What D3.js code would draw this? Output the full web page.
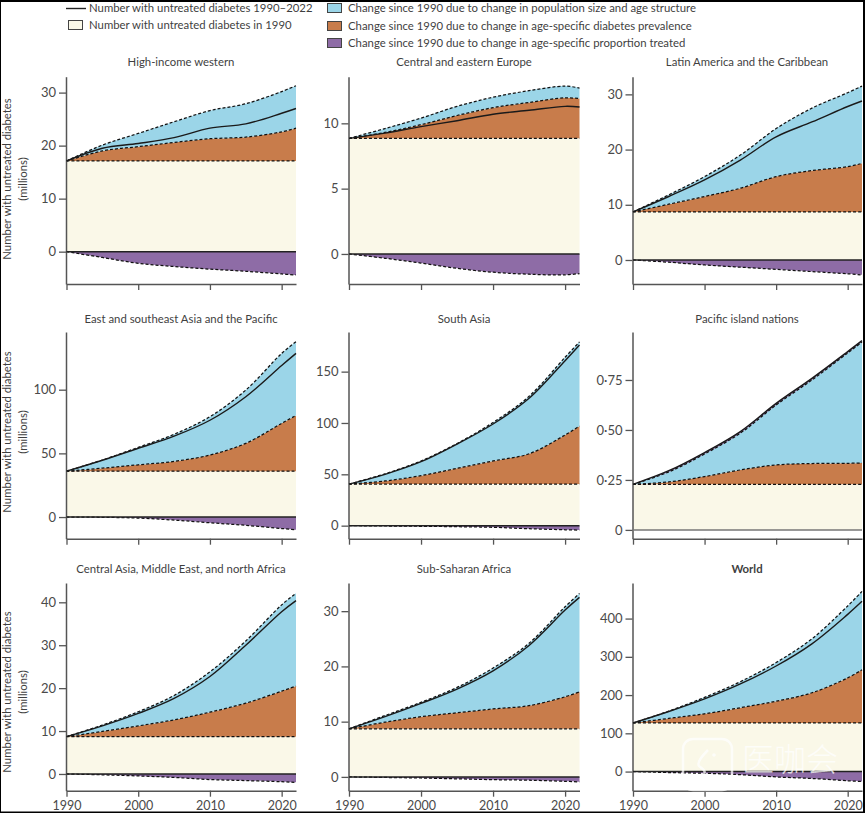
<!DOCTYPE html>
<html><head><meta charset="utf-8">
<script src="https://cdn.jsdelivr.net/npm/d3@7"></script>
<style>
html,body{margin:0;padding:0;background:#fff}
svg{display:block}
text{font-family:Lato,"Noto Sans",sans-serif;fill:#3f3f3f}
</style></head><body>
<svg id="c" width="865" height="813"></svg>
<script>
const years = [1990,1995,2000,2005,2010,2015,2020,2022];

const titles = ["High-income western","Central and eastern Europe","Latin America and the Caribbean",
  "East and southeast Asia and the Pacific","South Asia","Pacific island nations",
  "Central Asia, Middle East, and north Africa","Sub-Saharan Africa","World"];

const base = [17.1,8.85,8.7,36,40.5,0.228,8.7,8.7,127];

const topHighIncome = [17.1,20.1,22.3,24.5,26.6,27.9,30.2,31.3];
const prevHighIncome = [17.1,19.0,19.8,20.6,21.3,21.6,22.6,23.3];
const lineHighIncome = [17.1,19.5,20.4,21.5,23.3,24.1,26.1,27.0];
const treatHighIncome = [0,-1.1,-2.2,-2.8,-3.3,-3.7,-4.2,-4.4];

const topEurope = [8.85,9.6,10.4,11.3,12.0,12.5,12.85,12.7];
const prevEurope = [8.85,9.3,9.9,10.6,11.2,11.6,11.95,11.9];
const lineEurope = [8.85,9.25,9.75,10.2,10.7,11.0,11.3,11.25];
const treatEurope = [0,-0.33,-0.7,-1.1,-1.4,-1.55,-1.6,-1.5];

const topLatin = [8.7,11.8,15.1,19,23.8,27.5,30.3,31.5];
const prevLatin = [8.7,10.1,11.5,13,15.1,16.2,16.9,17.5];
const lineLatin = [8.7,11.5,14.5,18.1,22.3,25.0,27.8,28.8];
const treatLatin = [0,-0.4,-0.9,-1.3,-1.7,-2.1,-2.5,-2.7];

const topEastAsia = [36,44.8,54.7,65,78.8,99.7,128.5,137.7];
const prevEastAsia = [36,38.4,41,43.7,48.7,57.9,73.6,79.8];
const lineEastAsia = [36,44.6,54,63.5,76,94.5,119,128.5];
const treatEastAsia = [0,-0.2,-0.8,-2.4,-4.5,-6.5,-9,-10];

const topSouthAsia = [40.5,50.5,63,80,100.5,126,164,179];
const prevSouthAsia = [40.5,43.5,48.7,55.8,63,70,88.3,97];
const lineSouthAsia = [40.5,50,62.3,79.5,99,124,160.7,176];
const treatSouthAsia = [0,-0.3,-0.6,-1,-1.6,-3,-4,-4.3];

const topPacific = [0.228,0.290,0.38,0.484,0.625,0.75,0.885,0.94];
const prevPacific = [0.228,0.240,0.267,0.30,0.325,0.332,0.333,0.335];
const linePacific = [0.228,0.296,0.387,0.492,0.633,0.758,0.892,0.947];
const treatPacific = [0,0.006,0.007,0.008,0.008,0.008,0.007,0.007];

const topMena = [8.7,11.4,14.5,18.3,23.8,31,39.4,42.1];
const prevMena = [8.7,9.9,11.2,12.6,14.4,16.5,19.3,20.5];
const lineMena = [8.7,11.2,14.1,17.6,22.7,30,37.8,40.4];
const treatMena = [0,-0.2,-0.45,-0.8,-1.3,-1.55,-1.8,-1.95];

const topAfrica = [8.7,11.1,13.5,16.2,19.7,24.2,30.8,33.2];
const prevAfrica = [8.7,9.9,10.9,11.6,12.3,12.9,14.5,15.4];
const lineAfrica = [8.7,10.9,13.3,15.9,19.2,23.8,30.2,32.5];
const treatAfrica = [0,-0.1,-0.2,-0.35,-0.5,-0.6,-0.8,-0.9];

const topWorld = [127,158,194,235,285,347,433,471];
const prevWorld = [127,139,151,167,184,206,245,266];
const lineWorld = [127,157,190,229,276,334,411,445];
const treatWorld = [0,-2.5,-4.5,-8,-14,-18,-24,-26];

const tops = [topHighIncome,topEurope,topLatin,topEastAsia,topSouthAsia,topPacific,topMena,topAfrica,topWorld];
const prevs = [prevHighIncome,prevEurope,prevLatin,prevEastAsia,prevSouthAsia,prevPacific,prevMena,prevAfrica,prevWorld];
const lines = [lineHighIncome,lineEurope,lineLatin,lineEastAsia,lineSouthAsia,linePacific,lineMena,lineAfrica,lineWorld];
const treats = [treatHighIncome,treatEurope,treatLatin,treatEastAsia,treatSouthAsia,treatPacific,treatMena,treatAfrica,treatWorld];

const yTicks = [[0,10,20,30],[0,5,10],[0,10,20,30],[0,50,100],[0,50,100,150],[0,0.25,0.5,0.75],[0,10,20,30,40],[0,10,20,30],[0,100,200,300,400]];
const xTicks = [1990,2000,2010,2020];
const yDomains = [[-6.1,33],[-2.3,13.57],[-4.35,33.2],[-17,145.3],[-12.7,188.6],[-0.044,0.99],[-3.9,44.5],[-2.5,35.1],[-50,493]];

const legendLeft = ["Number with untreated diabetes 1990–2022","Number with untreated diabetes in 1990"];
const legendRight = ["Change since 1990 due to change in population size and age structure",
  "Change since 1990 due to change in age-specific diabetes prevalence",
  "Change since 1990 due to change in age-specific proportion treated"];

const BLUE="#9bd5e8", ORANGE="#c87c4b", CREAM="#faf8e8", PURPLE="#8e6ca6", AXIS="#555";
const colX = [[66.5,296],[349,579.5],[633,862]];
const rowY = [[284,76.7],[538.7,332],[790.7,583]];
const titleY = [62,319,569.5];
const titleX = [181,464,747];
const yTitleC = [179,432,692];
const LABEL = "11.35px";

const svg = d3.select("#c");

titles.forEach((title,i)=>{
  const col=i%3,row=Math.floor(i/3);
  const x=d3.scaleLinear().domain([1990,2022]).range(colX[col]);
  const y=d3.scaleLinear().domain(yDomains[i]).range(rowY[row]);
  const g=svg.append("g");
  const d=years.map((yr,k)=>({yr,top:tops[i][k],prev:prevs[i][k],line:lines[i][k],treat:treats[i][k]}));
  const cv=d3.curveCatmullRom.alpha(0.5);
  const band=(a,b,c)=>g.append("path").attr("fill",c).attr("d",d3.area().curve(cv).x(p=>x(p.yr)).y0(a).y1(b)(d));
  band(()=>y(0),()=>y(base[i]),CREAM);
  band(()=>y(base[i]),p=>y(p.prev),ORANGE);
  band(p=>y(p.prev),p=>y(p.top),BLUE);
  const positive=d3.max(treats[i])>0;
  if(positive) band(p=>y(p.top),p=>y(p.top+p.treat),PURPLE);
  else band(()=>y(0),p=>y(p.treat),PURPLE);
  const dash=(f)=>g.append("path").attr("fill","none").attr("stroke","#111").attr("stroke-width",1.25)
    .attr("stroke-dasharray","3,2").attr("d",d3.line().curve(cv).x(p=>x(p.yr)).y(f)(d));
  dash(()=>y(base[i]));
  dash(p=>y(p.prev));
  dash(p=>y(p.top));
  if(!positive) dash(p=>y(p.treat));
  // axes
  const ax=g.append("g").attr("transform",`translate(${colX[col][0]-0.5},0)`)
    .call(d3.axisLeft(y).tickValues(yTicks[i]).tickSize(7).tickSizeOuter(0)
      .tickFormat(v=>i===5&&v!==0?d3.format(".2f")(v).replace(".","·"):String(v)));
  const bx=g.append("g").attr("transform",`translate(0,${rowY[row][0]})`)
    .call(d3.axisBottom(x).tickValues(xTicks).tickSize(6).tickSizeOuter(0).tickFormat(row===2?d3.format("d"):""));
  [ax,bx].forEach(a=>{
    a.selectAll("path").attr("stroke",AXIS).attr("stroke-width",1.5);
    a.selectAll("line").attr("stroke",AXIS).attr("stroke-width",1.3);
    a.selectAll("text").style("font-family","Lato").style("font-size","13px").style("fill","#4a4a4a");
  });
  bx.selectAll("text").attr("y",10).style("font-size","12.5px");
  // zero line
  g.append("line").attr("x1",colX[col][0]).attr("x2",colX[col][1]).attr("y1",y(0)).attr("y2",y(0))
    .attr("stroke",i===5?"#777":"#222").attr("stroke-width",1.5);
  // solid
  g.append("path").attr("fill","none").attr("stroke","#1a1a1a").attr("stroke-width",1.4)
    .attr("d",d3.line().curve(cv).x(p=>x(p.yr)).y(p=>y(p.line))(d));
  svg.append("text").attr("x",titleX[col]).attr("y",titleY[row]).attr("dy","0.35em").attr("text-anchor","middle")
    .style("font-size",LABEL).style("font-weight",i===8?"700":"400").text(title);
});

yTitleC.forEach(c=>{
  const t=svg.append("text").attr("transform",`translate(11,${c}) rotate(-90)`).attr("text-anchor","middle").style("font-size",LABEL);
  t.append("tspan").attr("x",0).attr("y",0).text("Number with untreated diabetes");
  t.append("tspan").attr("x",0).attr("y",16).text("(millions)");
});

// legend
svg.append("line").attr("x1",66).attr("x2",86).attr("y1",8.5).attr("y2",8.5).attr("stroke","#222").attr("stroke-width",1.4);
svg.append("rect").attr("x",68.5).attr("y",20.5).attr("width",14).attr("height",9).attr("fill",CREAM).attr("stroke","#444").attr("stroke-width",1);
legendLeft.forEach((t,i)=>svg.append("text").attr("x",89).attr("y",8.5+i*17).attr("dy","0.35em").style("font-size",LABEL).text(t));
[BLUE,ORANGE,PURPLE].forEach((c,i)=>svg.append("rect").attr("x",327.5).attr("y",3.5+[0,18,35][i]).attr("width",14).attr("height",9).attr("fill",c).attr("stroke","#444").attr("stroke-width",1));
legendRight.forEach((t,i)=>svg.append("text").attr("x",348).attr("y",8+[0,18,35][i]).attr("dy","0.35em").style("font-size",LABEL).text(t));

// watermark
const wm=svg.append("g").attr("opacity",0.75);
wm.append("rect").attr("x",683).attr("y",739).attr("width",49).attr("height",51).attr("rx",10).attr("fill","none").attr("stroke","#fff").attr("stroke-width",2.5);
wm.append("path").attr("d","M708,750 C700,758 697,763 699,766 C703,769 706,771 704,774 C702,778 700,780 699,782").attr("fill","none").attr("stroke","#fff").attr("stroke-width",2.5);
wm.append("circle").attr("cx",714).attr("cy",755).attr("r",1.8).attr("fill","#fff");
wm.append("text").attr("x",742).attr("y",771).style("font-family","'Noto Sans CJK SC'").style("font-size","32px").style("font-weight","300").style("fill","#fff").text("医咖会");

// frame
const frame=svg.append("g").attr("fill","#000");
frame.append("rect").attr("x",0).attr("y",0).attr("width",865).attr("height",2);
frame.append("rect").attr("x",0).attr("y",0).attr("width",1).attr("height",813);
frame.append("rect").attr("x",863).attr("y",0).attr("width",2).attr("height",813);
frame.append("rect").attr("x",0).attr("y",811.5).attr("width",865).attr("height",1.5);
</script>
</body></html>
